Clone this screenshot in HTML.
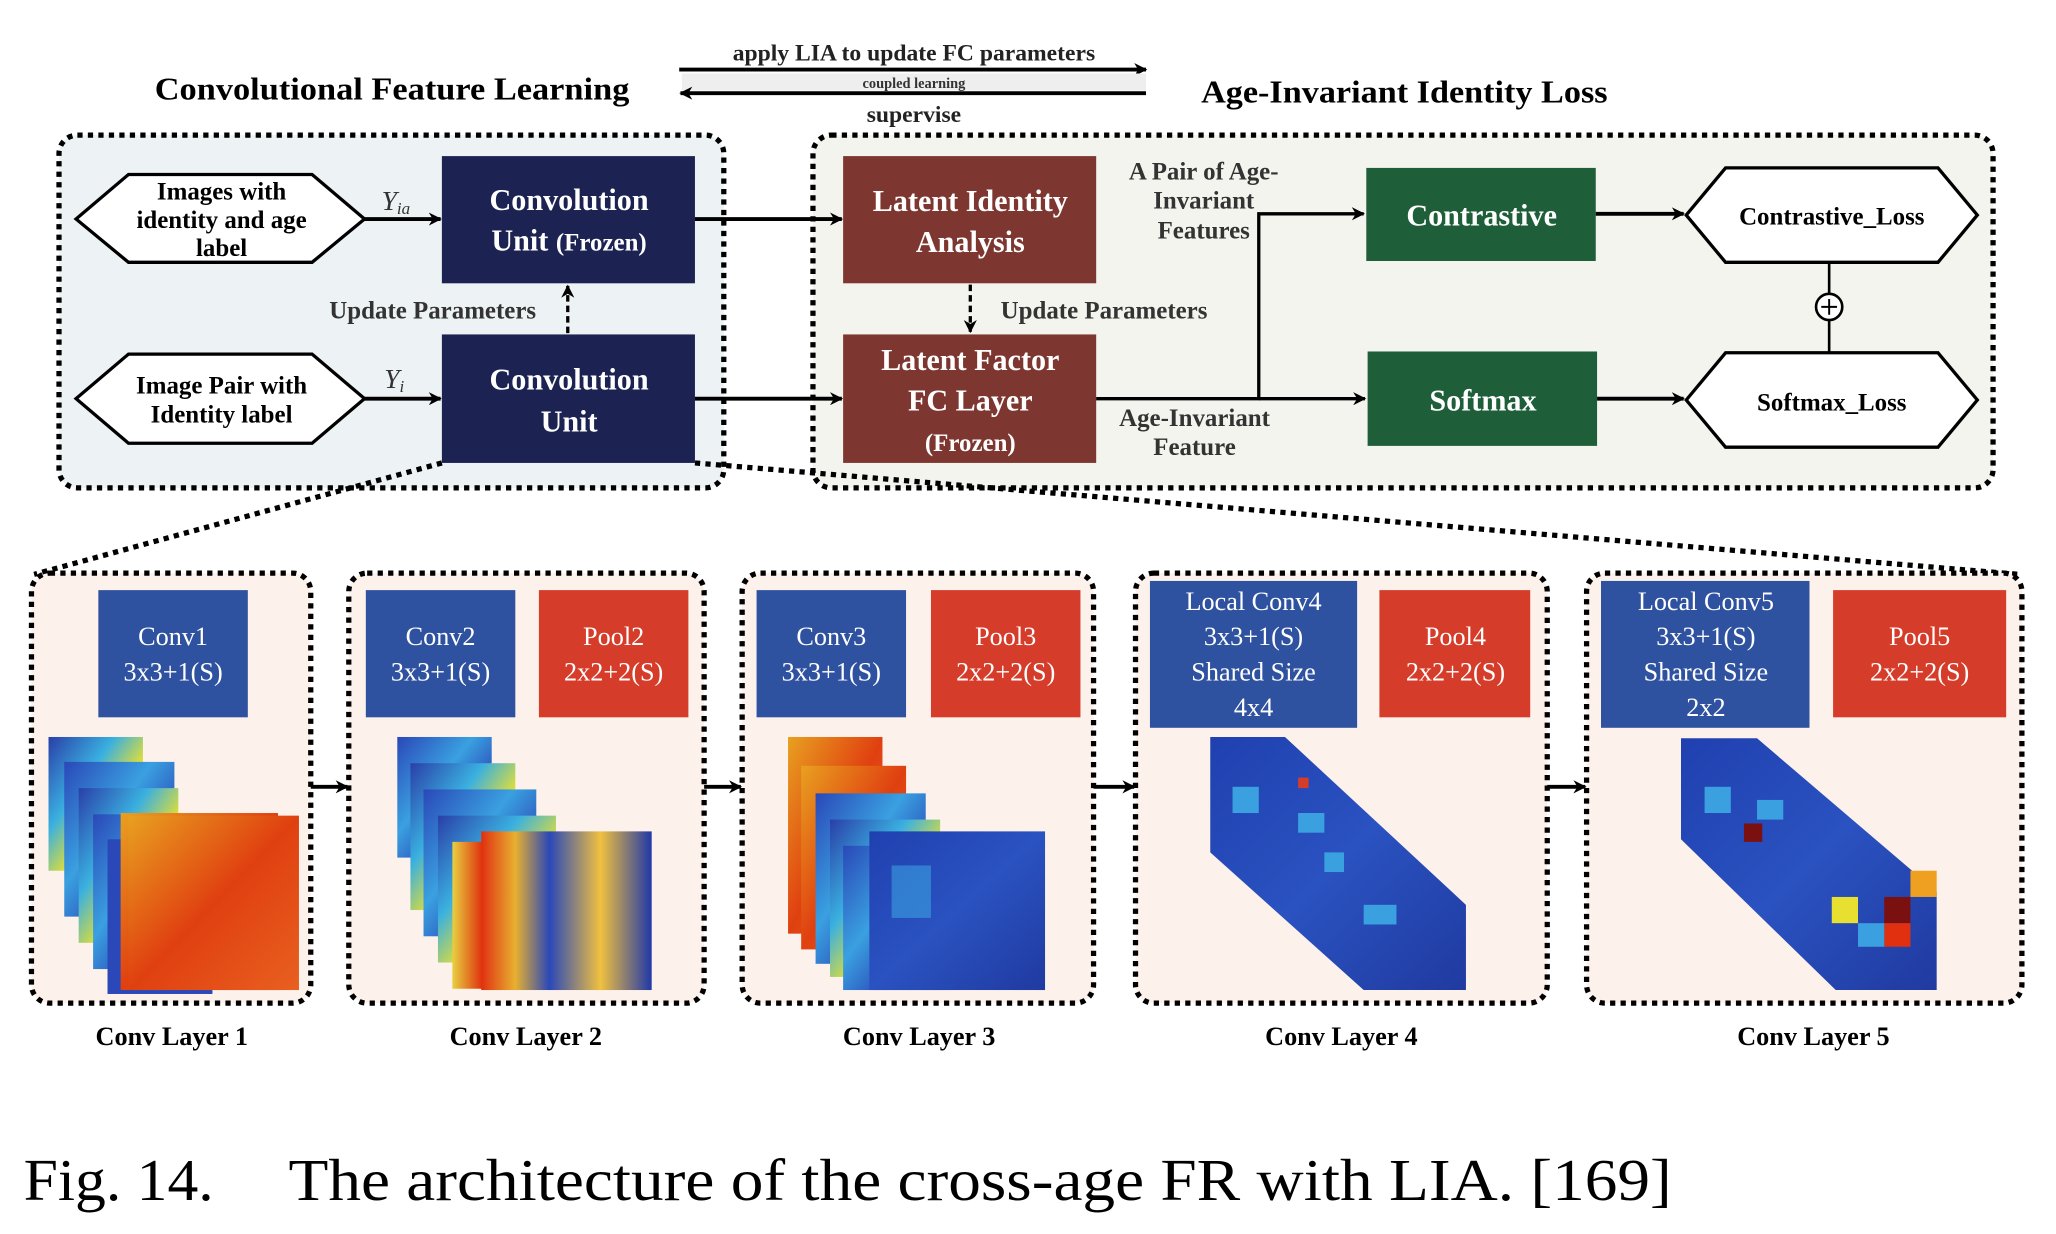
<!DOCTYPE html>
<html><head><meta charset="utf-8"><style>
html,body{margin:0;padding:0;background:#fff;}
svg{display:block;}
text{font-family:"Liberation Serif",serif;}
</style></head><body>
<svg width="2056" height="1234" viewBox="0 0 1568 941" xmlns="http://www.w3.org/2000/svg">
<defs>
<marker id="ar" markerWidth="10" markerHeight="10" refX="9" refY="5" orient="auto" markerUnits="userSpaceOnUse"><path d="M0,0 L10,5 L0,10 L3,5 z" fill="#000"/></marker>
<linearGradient id="g1" x1="0" y1="0" x2="1" y2="1"><stop offset="0" stop-color="#2a3fa8"/><stop offset=".35" stop-color="#3ab0e0"/><stop offset=".6" stop-color="#e8e030"/><stop offset="1" stop-color="#2a48b8"/></linearGradient>
<linearGradient id="g2" x1="0" y1="0" x2="1" y2="0"><stop offset="0" stop-color="#e8d040"/><stop offset=".25" stop-color="#e03a10"/><stop offset=".7" stop-color="#e04a10"/><stop offset="1" stop-color="#3050c0"/></linearGradient>
<linearGradient id="g3" x1="0" y1="0" x2="1" y2="0"><stop offset="0" stop-color="#e03010"/><stop offset=".2" stop-color="#e8b030"/><stop offset=".4" stop-color="#2a48b8"/><stop offset=".7" stop-color="#f0c040"/><stop offset="1" stop-color="#2038a8"/></linearGradient>
<linearGradient id="g4" x1="0" y1="0" x2="1" y2="1"><stop offset="0" stop-color="#e8a020"/><stop offset=".5" stop-color="#e04010"/><stop offset="1" stop-color="#e86020"/></linearGradient>
<linearGradient id="g5" x1="0" y1="0" x2="1" y2="1"><stop offset="0" stop-color="#2a48b8"/><stop offset=".4" stop-color="#3aa0e0"/><stop offset=".7" stop-color="#2a48b8"/><stop offset="1" stop-color="#3590d8"/></linearGradient>
<linearGradient id="g6" x1="0" y1="0" x2="1" y2="1"><stop offset="0" stop-color="#2040b0"/><stop offset=".5" stop-color="#2a52c0"/><stop offset="1" stop-color="#203aa0"/></linearGradient>
</defs>

<text x="118" y="76" font-size="24" font-weight="bold" textLength="362" lengthAdjust="spacingAndGlyphs">Convolutional Feature Learning</text>
<text x="916" y="78" font-size="24" font-weight="bold" textLength="310" lengthAdjust="spacingAndGlyphs">Age-Invariant Identity Loss</text>
<text x="697" y="46" font-size="18" font-weight="bold" text-anchor="middle" fill="#222">apply LIA to update FC parameters</text>
<line x1="518" y1="53" x2="874" y2="53" stroke="#000" stroke-width="3" marker-end="url(#ar)"/>
<rect x="520" y="56" width="354" height="13" fill="#eee"/>
<text x="697" y="67" font-size="11" font-weight="bold" text-anchor="middle" fill="#333">coupled learning</text>
<line x1="874" y1="71" x2="519" y2="71" stroke="#000" stroke-width="3" marker-end="url(#ar)"/>
<text x="697" y="93" font-size="18" font-weight="bold" text-anchor="middle" fill="#222">supervise</text>

<rect x="45" y="103" width="507" height="269" rx="14" fill="#edf2f5" stroke="#000" stroke-width="4" stroke-dasharray="4,4"/>
<rect x="620" y="103" width="900" height="269" rx="14" fill="#f4f4ee" stroke="#000" stroke-width="4" stroke-dasharray="4,4"/>

<polygon points="58,167 98,133 238,133 278,167 238,200 98,200" fill="#fff" stroke="#000" stroke-width="2.5"/>
<text x="169" y="152" font-size="19" font-weight="bold" text-anchor="middle">Images with</text>
<text x="169" y="174" font-size="19" font-weight="bold" text-anchor="middle">identity and age</text>
<text x="169" y="195" font-size="19" font-weight="bold" text-anchor="middle">label</text>
<polygon points="58,304 98,270 238,270 278,304 238,338 98,338" fill="#fff" stroke="#000" stroke-width="2.5"/>
<text x="169" y="300" font-size="19" font-weight="bold" text-anchor="middle">Image Pair with</text>
<text x="169" y="322" font-size="19" font-weight="bold" text-anchor="middle">Identity label</text>

<line x1="278" y1="167" x2="336" y2="167" stroke="#000" stroke-width="3" marker-end="url(#ar)"/>
<line x1="278" y1="304" x2="336" y2="304" stroke="#000" stroke-width="3" marker-end="url(#ar)"/>
<text x="291" y="160" font-size="21" font-style="italic" fill="#333">Y<tspan font-size="13" dy="3">ia</tspan></text>
<text x="293" y="296" font-size="21" font-style="italic" fill="#333">Y<tspan font-size="13" dy="3">i</tspan></text>

<rect x="337" y="119" width="193" height="97" fill="#1c2352"/>
<text x="434" y="160" font-size="23" font-weight="bold" fill="#fff" text-anchor="middle">Convolution</text>
<text x="434" y="191" font-size="23" font-weight="bold" fill="#fff" text-anchor="middle">Unit <tspan font-size="19">(Frozen)</tspan></text>
<rect x="337" y="255" width="193" height="98" fill="#1c2352"/>
<text x="434" y="297" font-size="23" font-weight="bold" fill="#fff" text-anchor="middle">Convolution</text>
<text x="434" y="329" font-size="23" font-weight="bold" fill="#fff" text-anchor="middle">Unit</text>

<line x1="433" y1="254" x2="433" y2="218" stroke="#000" stroke-width="2.5" stroke-dasharray="5,3" marker-end="url(#ar)"/>
<text x="330" y="243" font-size="19" font-weight="bold" text-anchor="middle" fill="#333">Update Parameters</text>

<line x1="530" y1="167" x2="642" y2="167" stroke="#000" stroke-width="3" marker-end="url(#ar)"/>
<line x1="530" y1="304" x2="642" y2="304" stroke="#000" stroke-width="3" marker-end="url(#ar)"/>

<rect x="643" y="119" width="193" height="97" fill="#7d3730"/>
<text x="740" y="161" font-size="23" font-weight="bold" fill="#fff" text-anchor="middle">Latent Identity</text>
<text x="740" y="192" font-size="23" font-weight="bold" fill="#fff" text-anchor="middle">Analysis</text>
<rect x="643" y="255" width="193" height="98" fill="#7d3730"/>
<text x="740" y="282" font-size="23" font-weight="bold" fill="#fff" text-anchor="middle">Latent Factor</text>
<text x="740" y="313" font-size="23" font-weight="bold" fill="#fff" text-anchor="middle">FC Layer</text>
<text x="740" y="344" font-size="19" font-weight="bold" fill="#fff" text-anchor="middle">(Frozen)</text>

<line x1="740" y1="217" x2="740" y2="253" stroke="#000" stroke-width="2.5" stroke-dasharray="5,3" marker-end="url(#ar)"/>
<text x="842" y="243" font-size="19" font-weight="bold" text-anchor="middle" fill="#333">Update Parameters</text>

<text x="918" y="137" font-size="19" font-weight="bold" text-anchor="middle" fill="#333">A Pair of Age-</text>
<text x="918" y="159" font-size="19" font-weight="bold" text-anchor="middle" fill="#333">Invariant</text>
<text x="918" y="182" font-size="19" font-weight="bold" text-anchor="middle" fill="#333">Features</text>
<text x="911" y="325" font-size="19" font-weight="bold" text-anchor="middle" fill="#333">Age-Invariant</text>
<text x="911" y="347" font-size="19" font-weight="bold" text-anchor="middle" fill="#333">Feature</text>

<polyline points="836,304 960,304 960,163 1040,163" fill="none" stroke="#000" stroke-width="2.5" marker-end="url(#ar)"/>
<line x1="960" y1="304" x2="1041" y2="304" stroke="#000" stroke-width="2.5" marker-end="url(#ar)"/>

<rect x="1042" y="128" width="175" height="71" fill="#1e5e38"/>
<text x="1130" y="172" font-size="23" font-weight="bold" fill="#fff" text-anchor="middle">Contrastive</text>
<rect x="1043" y="268" width="175" height="72" fill="#1e5e38"/>
<text x="1131" y="313" font-size="23" font-weight="bold" fill="#fff" text-anchor="middle">Softmax</text>

<line x1="1217" y1="163" x2="1284" y2="163" stroke="#000" stroke-width="3" marker-end="url(#ar)"/>
<line x1="1218" y1="304" x2="1284" y2="304" stroke="#000" stroke-width="3" marker-end="url(#ar)"/>

<line x1="1395" y1="200" x2="1395" y2="269" stroke="#000" stroke-width="2"/>
<circle cx="1395" cy="234" r="10" fill="#fff" stroke="#000" stroke-width="2"/>
<line x1="1389" y1="234" x2="1401" y2="234" stroke="#000" stroke-width="1.5"/>
<line x1="1395" y1="228" x2="1395" y2="240" stroke="#000" stroke-width="1.5"/>

<polygon points="1286,164 1316,128 1478,128 1508,164 1478,200 1316,200" fill="#fff" stroke="#000" stroke-width="2.5"/>
<text x="1397" y="171" font-size="19" font-weight="bold" text-anchor="middle">Contrastive_Loss</text>
<polygon points="1286,305 1316,269 1478,269 1508,305 1478,341 1316,341" fill="#fff" stroke="#000" stroke-width="2.5"/>
<text x="1397" y="313" font-size="19" font-weight="bold" text-anchor="middle">Softmax_Loss</text>

<line x1="337" y1="353" x2="26" y2="438" stroke="#000" stroke-width="4" stroke-dasharray="4,4"/>
<line x1="530" y1="353" x2="1540" y2="438" stroke="#000" stroke-width="4" stroke-dasharray="4,4"/>

<g fill="#fdf1ec" stroke="#000" stroke-width="4" stroke-dasharray="4,4">
<rect x="24" y="437" width="213" height="328" rx="14"/>
<rect x="266" y="437" width="271" height="328" rx="14"/>
<rect x="566" y="437" width="268" height="328" rx="14"/>
<rect x="866" y="437" width="314" height="328" rx="14"/>
<rect x="1210" y="437" width="332" height="328" rx="14"/>
</g>
<g stroke="#000" stroke-width="3">
<line x1="237" y1="600" x2="265" y2="600" marker-end="url(#ar)"/>
<line x1="537" y1="600" x2="565" y2="600" marker-end="url(#ar)"/>
<line x1="834" y1="600" x2="865" y2="600" marker-end="url(#ar)"/>
<line x1="1180" y1="600" x2="1209" y2="600" marker-end="url(#ar)"/>
</g>

<g font-size="20" fill="#fff" text-anchor="middle">
<rect x="75" y="450" width="114" height="97" fill="#2f52a0"/>
<text x="132" y="492">Conv1</text><text x="132" y="519">3x3+1(S)</text>
<rect x="279" y="450" width="114" height="97" fill="#2f52a0"/>
<text x="336" y="492">Conv2</text><text x="336" y="519">3x3+1(S)</text>
<rect x="411" y="450" width="114" height="97" fill="#d63c2a"/>
<text x="468" y="492">Pool2</text><text x="468" y="519">2x2+2(S)</text>
<rect x="577" y="450" width="114" height="97" fill="#2f52a0"/>
<text x="634" y="492">Conv3</text><text x="634" y="519">3x3+1(S)</text>
<rect x="710" y="450" width="114" height="97" fill="#d63c2a"/>
<text x="767" y="492">Pool3</text><text x="767" y="519">2x2+2(S)</text>
<rect x="877" y="443" width="158" height="112" fill="#2f52a0"/>
<text x="956" y="465">Local Conv4</text><text x="956" y="492">3x3+1(S)</text><text x="956" y="519">Shared Size</text><text x="956" y="546">4x4</text>
<rect x="1052" y="450" width="115" height="97" fill="#d63c2a"/>
<text x="1110" y="492">Pool4</text><text x="1110" y="519">2x2+2(S)</text>
<rect x="1221" y="443" width="159" height="112" fill="#2f52a0"/>
<text x="1301" y="465">Local Conv5</text><text x="1301" y="492">3x3+1(S)</text><text x="1301" y="519">Shared Size</text><text x="1301" y="546">2x2</text>
<rect x="1398" y="450" width="132" height="97" fill="#d63c2a"/>
<text x="1464" y="492">Pool5</text><text x="1464" y="519">2x2+2(S)</text>
</g>

<g>
<rect x="37" y="562" width="72" height="102" fill="url(#g1)"/>
<rect x="49" y="581" width="84" height="118" fill="url(#g5)"/>
<rect x="60" y="601" width="76" height="118" fill="url(#g1)"/>
<rect x="71" y="621" width="80" height="118" fill="url(#g5)"/>
<rect x="82" y="640" width="80" height="118" fill="#2a48b8"/>
<rect x="92" y="620" width="120" height="135" fill="url(#g4)"/>
<rect x="98" y="622" width="130" height="133" fill="url(#g4)"/>
</g>
<g>
<rect x="303" y="562" width="72" height="92" fill="url(#g5)"/>
<rect x="313" y="582" width="80" height="112" fill="url(#g1)"/>
<rect x="323" y="602" width="86" height="112" fill="url(#g5)"/>
<rect x="334" y="622" width="90" height="112" fill="url(#g1)"/>
<rect x="345" y="642" width="86" height="112" fill="url(#g2)"/>
<rect x="367" y="634" width="130" height="121" fill="url(#g3)"/>
</g>
<g>
<rect x="601" y="562" width="72" height="150" fill="url(#g4)"/>
<rect x="611" y="584" width="80" height="140" fill="url(#g4)"/>
<rect x="622" y="605" width="84" height="130" fill="url(#g5)"/>
<rect x="633" y="625" width="84" height="120" fill="url(#g1)"/>
<rect x="643" y="645" width="84" height="110" fill="url(#g5)"/>
<rect x="663" y="634" width="134" height="121" fill="url(#g6)"/>
<rect x="680" y="660" width="30" height="40" fill="#3aa0e0" opacity=".6"/>
</g>
<g>
<polygon points="923,562 980,562 1118,690 1118,755 1040,755 923,650" fill="url(#g6)"/>
<rect x="940" y="600" width="20" height="20" fill="#3aa0e0"/>
<rect x="990" y="620" width="20" height="15" fill="#3aa0e0"/>
<rect x="1010" y="650" width="15" height="15" fill="#3aa0e0"/>
<rect x="1040" y="690" width="25" height="15" fill="#3aa0e0"/>
<rect x="990" y="593" width="8" height="8" fill="#d63c2a"/>
</g>
<g>
<polygon points="1282,563 1340,563 1477,680 1477,755 1400,755 1282,640" fill="url(#g6)"/>
<rect x="1300" y="600" width="20" height="20" fill="#3aa0e0"/>
<rect x="1340" y="610" width="20" height="15" fill="#3aa0e0"/>
<rect x="1330" y="628" width="14" height="14" fill="#7a1010"/>
<rect x="1437" y="684" width="20" height="20" fill="#7a1010"/>
<rect x="1457" y="664" width="20" height="20" fill="#f0a020"/>
<rect x="1397" y="684" width="20" height="20" fill="#e8e030"/>
<rect x="1437" y="704" width="20" height="18" fill="#e03010"/>
<rect x="1417" y="704" width="20" height="18" fill="#3aa0e0"/>
</g>

<g font-size="20" font-weight="bold" text-anchor="middle">
<text x="131" y="797">Conv Layer 1</text>
<text x="401" y="797">Conv Layer 2</text>
<text x="701" y="797">Conv Layer 3</text>
<text x="1023" y="797">Conv Layer 4</text>
<text x="1383" y="797">Conv Layer 5</text>
</g>

<text x="18" y="915" font-size="45" textLength="145" lengthAdjust="spacingAndGlyphs">Fig. 14.</text>
<text x="220" y="915" font-size="45" textLength="1055" lengthAdjust="spacingAndGlyphs">The architecture of the cross-age FR with LIA. [169]</text>
</svg>
</body></html>
